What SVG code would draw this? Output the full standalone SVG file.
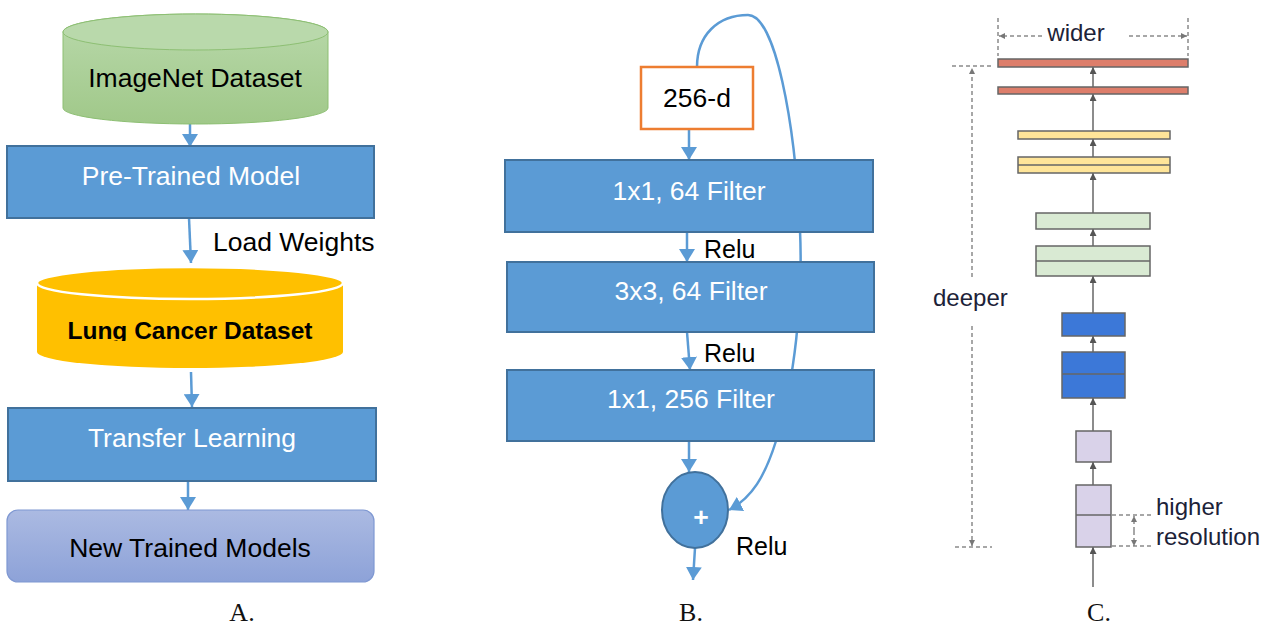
<svg xmlns="http://www.w3.org/2000/svg" width="1271" height="628" viewBox="0 0 1271 628">
  <defs>
    <style>
      .lbl { font-family: "Liberation Sans", Arial, sans-serif; font-size: 26.5px; }
      .rl { font-size: 25px; }
      .bold { font-weight: bold; font-size: 24.5px; }
      .wt { fill: #ffffff; }
      .bk { fill: #000000; }
      .cap { font-family: "Liberation Serif", "Times New Roman", serif; font-size: 26px; fill: #111; }
      .clbl { font-family: "Liberation Sans", Arial, sans-serif; font-size: 24px; fill: #1c2238; }
      .blk { fill: #5b9bd5; stroke: #41719c; stroke-width: 2; }
      .conn { fill: none; stroke: #5b9bd5; stroke-width: 2.5; marker-end: url(#ah); }
      .bar { stroke: #666; stroke-width: 1.5; }
      .flow { fill: none; stroke: #666; stroke-width: 1.5; marker-end: url(#sa); }
      .dash { fill: none; stroke: #8a8a8a; stroke-width: 1.5; stroke-dasharray: 4 3; }
      .dashA { fill: none; stroke: #8a8a8a; stroke-width: 1.5; stroke-dasharray: 4 3; marker-end: url(#da); }
    </style>
    <marker id="ah" viewBox="0 0 13 16" refX="13" refY="8" markerWidth="13" markerHeight="16" markerUnits="userSpaceOnUse" orient="auto">
      <path d="M0,0 L13,8 L0,16 Z" fill="#5b9bd5"/>
    </marker>
    <marker id="sa" viewBox="0 0 7 7" refX="7" refY="3.5" markerWidth="7" markerHeight="7" markerUnits="userSpaceOnUse" orient="auto">
      <path d="M0,0 L7,3.5 L0,7 Z" fill="#555"/>
    </marker>
    <marker id="da" viewBox="0 0 6 6" refX="6" refY="3" markerWidth="6" markerHeight="6" markerUnits="userSpaceOnUse" orient="auto">
      <path d="M0,0 L6,3 L0,6 Z" fill="#777"/>
    </marker>
    <linearGradient id="gGreen" x1="0" y1="0" x2="0" y2="1">
      <stop offset="0" stop-color="#b9d9ab"/>
      <stop offset="1" stop-color="#a0c889"/>
    </linearGradient>
    <linearGradient id="gLav" x1="0" y1="0" x2="0" y2="1">
      <stop offset="0" stop-color="#abbae2"/>
      <stop offset="1" stop-color="#8da2d8"/>
    </linearGradient>
    <clipPath id="lungClip">
      <rect x="0" y="300" width="400" height="41"/>
    </clipPath>
  </defs>

  <rect width="1271" height="628" fill="#ffffff"/>

  <!-- connectors -->
  <g id="connectors">
    <!-- panel A flow -->
    <path class="conn" d="M190,124 L190,147"/>
    <path class="conn" d="M189,218 L191,263"/>
    <path class="conn" d="M191,372 L192,407"/>
    <path class="conn" d="M188,481 L188,510"/>
    <!-- panel B flow -->
    <path class="conn" d="M689,129 L689,160"/>
    <path class="conn" d="M687,232 L687,262"/>
    <path class="conn" d="M687,332 L690,370"/>
    <path class="conn" d="M689,441 L689,472"/>
    <path class="conn" d="M695,548 L693,580"/>
    <!-- identity shortcut -->
    <path class="conn" d="M697,67 C697,35 718,15 748,15 C775,15 795,120 800,230 C803,300 795,380 776,441 C765,476 752,498 729,510"/>
    <!-- panel C flow -->
    <path class="flow" d="M1093,87 L1093,67"/>
    <path class="flow" d="M1093,131 L1093,94"/>
    <path class="flow" d="M1093,157 L1093,139"/>
    <path class="flow" d="M1093,213 L1093,173"/>
    <path class="flow" d="M1093,246 L1093,229"/>
    <path class="flow" d="M1093,313 L1093,276"/>
    <path class="flow" d="M1093,352 L1093,336"/>
    <path class="flow" d="M1093,431 L1093,398"/>
    <path class="flow" d="M1093,485 L1093,462"/>
    <path class="flow" d="M1093,587 L1093,547"/>
    <!-- wider -->
    <path class="dash" d="M998,18 L998,56 M1188,18 L1188,56"/>
    <path class="dashA" d="M1042,36 L999,36"/>
    <path class="dashA" d="M1129,36 L1187,36"/>
    <!-- deeper -->
    <path class="dash" d="M952,66 L992,66 M955,547 L992,547"/>
    <path class="dashA" d="M972,277 L972,68"/>
    <path class="dashA" d="M972,326 L972,546"/>
    <!-- higher resolution -->
    <path class="dash" d="M1112,515 L1153,515 M1112,546 L1153,546"/>
    <path class="dashA" d="M1134,531 L1134,516"/>
    <path class="dashA" d="M1134,531 L1134,546"/>
  </g>

  <!-- panel A -->
  <g id="imagenet">
    <path d="M63,32 A132.5,18 0 0 1 328,32 L328,108 A132.5,16 0 0 1 63,108 Z" fill="url(#gGreen)" stroke="#8dbf73" stroke-width="1"/>
    <ellipse cx="195.5" cy="32" rx="132.5" ry="18" fill="#b9d9ab" stroke="#8dbf73" stroke-width="1"/>
    <text class="lbl bk" x="195" y="87" text-anchor="middle">ImageNet Dataset</text>
  </g>
  <g id="pretrained">
    <rect class="blk" x="7" y="146" width="367" height="72"/>
    <text class="lbl wt" x="191" y="185" text-anchor="middle">Pre-Trained Model</text>
  </g>
  <text class="lbl bk" x="213" y="251">Load Weights</text>
  <g id="lungcancer">
    <path d="M37,283 A153,16 0 0 1 343,283 L343,352 A153,16 0 0 1 37,352 Z" fill="#ffc000"/>
    <ellipse cx="190" cy="283" rx="153" ry="16" fill="#ffc000" stroke="#ffffff" stroke-width="2.5"/>
    <text class="lbl bold bk" x="190" y="339" text-anchor="middle" clip-path="url(#lungClip)">Lung Cancer Dataset</text>
  </g>
  <g id="transfer">
    <rect class="blk" x="8" y="408" width="368" height="73"/>
    <text class="lbl wt" x="192" y="447" text-anchor="middle">Transfer Learning</text>
  </g>
  <g id="newmodels">
    <rect x="7" y="510" width="367" height="72" rx="11" fill="url(#gLav)" stroke="#7f98d2" stroke-width="1.2"/>
    <text class="lbl bk" x="190" y="557" text-anchor="middle">New Trained Models</text>
  </g>
  <text class="cap" x="242" y="621" text-anchor="middle">A.</text>

  <!-- panel B -->
  <g id="input256">
    <rect x="641" y="67" width="112" height="62" fill="#ffffff" stroke="#ed7d31" stroke-width="2.5"/>
    <text class="lbl bk" x="697" y="107" text-anchor="middle">256-d</text>
  </g>
  <g id="conv1">
    <rect class="blk" x="505" y="160" width="368" height="72"/>
    <text class="lbl wt" x="689" y="200" text-anchor="middle">1x1, 64 Filter</text>
  </g>
  <text class="lbl rl bk" x="704" y="258">Relu</text>
  <g id="conv2">
    <rect class="blk" x="507" y="262" width="367" height="70"/>
    <text class="lbl wt" x="691" y="300" text-anchor="middle">3x3, 64 Filter</text>
  </g>
  <text class="lbl rl bk" x="704" y="362">Relu</text>
  <g id="conv3">
    <rect class="blk" x="507" y="370" width="367" height="71"/>
    <text class="lbl wt" x="691" y="408" text-anchor="middle">1x1, 256 Filter</text>
  </g>
  <g id="add">
    <ellipse class="blk" cx="695" cy="510" rx="33" ry="38"/>
    <text class="lbl wt" x="701" y="526" text-anchor="middle" font-weight="bold">+</text>
  </g>
  <text class="lbl rl bk" x="736" y="555">Relu</text>
  <text class="cap" x="691" y="621" text-anchor="middle">B.</text>

  <!-- panel C -->
  <text class="clbl" x="1076" y="41" text-anchor="middle">wider</text>
  <g id="red1"><rect class="bar" x="998" y="59" width="190" height="8" fill="#dd7e6b"/></g>
  <g id="red2"><rect class="bar" x="998" y="87" width="190" height="7" fill="#dd7e6b"/></g>
  <g id="yellow1"><rect class="bar" x="1018" y="131" width="152" height="8" fill="#ffe599"/></g>
  <g id="yellow2">
    <rect class="bar" x="1018" y="157" width="152" height="16" fill="#ffe599"/>
    <line class="bar" x1="1018" y1="165" x2="1170" y2="165"/>
  </g>
  <g id="green1"><rect class="bar" x="1036" y="213" width="114" height="16" fill="#d9ead3"/></g>
  <g id="green2">
    <rect class="bar" x="1036" y="246" width="114" height="30" fill="#d9ead3"/>
    <line class="bar" x1="1036" y1="261" x2="1150" y2="261"/>
  </g>
  <g id="blue1"><rect class="bar" x="1062" y="313" width="63" height="23" fill="#3c78d8"/></g>
  <g id="blue2">
    <rect class="bar" x="1062" y="352" width="63" height="46" fill="#3c78d8"/>
    <line class="bar" x1="1062" y1="374" x2="1125" y2="374" stroke-width="2"/>
  </g>
  <g id="purple1"><rect class="bar" x="1076" y="431" width="35" height="31" fill="#d9d2e9"/></g>
  <g id="purple2">
    <rect class="bar" x="1076" y="485" width="35" height="62" fill="#d9d2e9"/>
    <line class="bar" x1="1076" y1="515" x2="1111" y2="515"/>
  </g>
  <text class="clbl" x="933" y="306">deeper</text>
  <text class="clbl" x="1156" y="515">higher</text>
  <text class="clbl" x="1156" y="545">resolution</text>
  <text class="cap" x="1099" y="621" text-anchor="middle">C.</text>
</svg>
